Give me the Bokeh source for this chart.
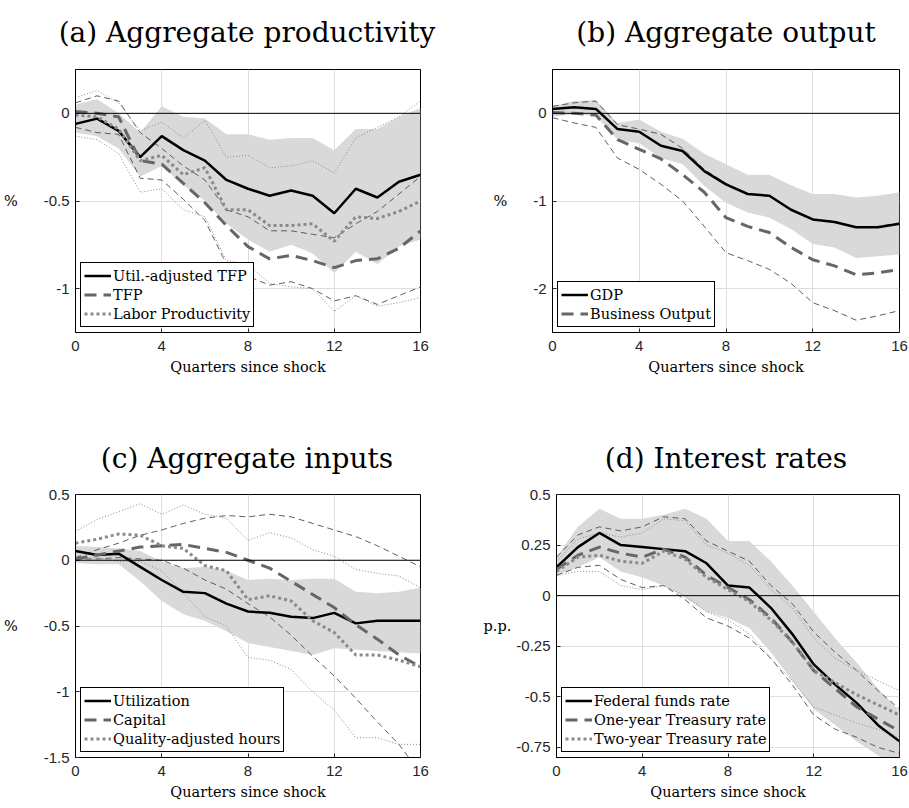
from bokeh.plotting import figure
from bokeh.layouts import column, row
from bokeh.models import Legend, LegendItem, Span, Label
from bokeh.embed import file_html
from bokeh.resources import INLINE

quarters = list(range(17))
x_ticks = [0, 4, 8, 12, 16]
x_label = "Quarters since shock"

# ---------- (a) Aggregate productivity ----------
a_title = "(a) Aggregate productivity"
a_names = ["Util.-adjusted TFP", "TFP", "Labor Productivity"]
a_util = [-0.06, -0.03, -0.10, -0.25, -0.13, -0.21, -0.27, -0.38, -0.43, -0.47, -0.44, -0.47, -0.57, -0.43, -0.48, -0.39, -0.35]
a_util_lo = [-0.11, -0.13, -0.20, -0.36, -0.30, -0.41, -0.50, -0.63, -0.72, -0.79, -0.75, -0.80, -0.91, -0.79, -0.86, -0.76, -0.72]
a_util_hi = [0.05, 0.08, 0.00, -0.11, 0.04, -0.02, -0.03, -0.12, -0.12, -0.15, -0.14, -0.14, -0.21, -0.09, -0.09, -0.02, 0.03]
a_tfp = [0.01, 0.0, -0.02, -0.27, -0.29, -0.40, -0.51, -0.64, -0.76, -0.83, -0.81, -0.84, -0.88, -0.84, -0.83, -0.77, -0.67]
a_tfp_hi = [0.06, 0.10, 0.07, -0.11, -0.20, -0.30, -0.38, -0.55, -0.59, -0.67, -0.67, -0.69, -0.71, -0.63, -0.56, -0.46, -0.36]
a_tfp_lo = [-0.08, -0.11, -0.12, -0.37, -0.38, -0.49, -0.61, -0.86, -0.93, -0.98, -0.96, -1.00, -1.07, -1.04, -1.09, -1.04, -0.99]
a_lp = [-0.01, -0.02, -0.09, -0.27, -0.24, -0.35, -0.31, -0.55, -0.55, -0.64, -0.64, -0.63, -0.73, -0.59, -0.60, -0.56, -0.50]
a_lp_hi = [0.09, 0.13, 0.06, -0.10, -0.05, -0.14, -0.04, -0.25, -0.24, -0.31, -0.30, -0.27, -0.34, -0.14, -0.08, -0.02, 0.07]
a_lp_lo = [-0.13, -0.15, -0.23, -0.45, -0.43, -0.55, -0.59, -0.84, -0.86, -0.97, -0.99, -1.00, -1.13, -1.04, -1.10, -1.08, -1.05]
a_yticks = [-1, -0.5, 0]
a_yticklabels = ["-1", "-0.5", "0"]

# ---------- (b) Aggregate output ----------
b_title = "(b) Aggregate output"
b_names = ["GDP", "Business Output"]
b_gdp = [0.05, 0.07, 0.05, -0.18, -0.21, -0.37, -0.43, -0.66, -0.81, -0.92, -0.94, -1.10, -1.21, -1.24, -1.30, -1.30, -1.26]
b_gdp_hi = [0.08, 0.14, 0.15, -0.11, -0.07, -0.21, -0.29, -0.46, -0.58, -0.70, -0.70, -0.82, -0.92, -0.92, -0.96, -0.94, -0.90]
b_gdp_lo = [-0.04, -0.01, -0.03, -0.30, -0.34, -0.51, -0.58, -0.83, -1.02, -1.13, -1.19, -1.32, -1.49, -1.53, -1.65, -1.63, -1.61]
b_bus = [0.01, 0.0, -0.02, -0.30, -0.41, -0.52, -0.70, -0.90, -1.19, -1.29, -1.36, -1.53, -1.67, -1.74, -1.84, -1.82, -1.78]
b_bus_hi = [0.08, 0.12, 0.14, -0.13, -0.18, -0.24, -0.40, -0.64, -0.80, -0.92, -0.94, -1.10, -1.21, -1.23, -1.30, -1.29, -1.25]
b_bus_lo = [-0.05, -0.11, -0.16, -0.51, -0.64, -0.81, -1.00, -1.29, -1.59, -1.68, -1.78, -1.94, -2.16, -2.25, -2.36, -2.31, -2.25]
b_yticks = [-2, -1, 0]
b_yticklabels = ["-2", "-1", "0"]

# ---------- (c) Aggregate inputs ----------
c_title = "(c) Aggregate inputs"
c_names = ["Utilization", "Capital", "Quality-adjusted hours"]
c_util = [0.07, 0.04, 0.05, -0.05, -0.15, -0.24, -0.25, -0.33, -0.39, -0.40, -0.43, -0.44, -0.40, -0.48, -0.46, -0.46, -0.46]
c_util_hi = [0.11, 0.10, 0.09, 0.07, -0.01, -0.06, -0.05, -0.08, -0.15, -0.14, -0.15, -0.14, -0.14, -0.24, -0.25, -0.24, -0.21]
c_util_lo = [-0.02, -0.03, -0.03, -0.16, -0.31, -0.41, -0.46, -0.54, -0.63, -0.66, -0.69, -0.72, -0.67, -0.68, -0.69, -0.70, -0.71]
c_cap = [0.01, 0.04, 0.07, 0.10, 0.11, 0.12, 0.09, 0.06, 0.0, -0.06, -0.16, -0.26, -0.36, -0.49, -0.60, -0.72, -0.81]
c_cap_hi = [0.02, 0.08, 0.13, 0.19, 0.23, 0.28, 0.32, 0.34, 0.33, 0.35, 0.33, 0.28, 0.23, 0.18, 0.11, 0.03, -0.05]
c_cap_lo = [0.01, 0.01, 0.02, 0.01, 0.0, -0.06, -0.15, -0.22, -0.33, -0.43, -0.57, -0.73, -0.88, -1.05, -1.23, -1.40, -1.62]
c_hrs = [0.13, 0.16, 0.20, 0.19, 0.11, 0.09, -0.04, -0.08, -0.30, -0.27, -0.31, -0.46, -0.55, -0.72, -0.72, -0.76, -0.81]
c_hrs_hi = [0.22, 0.31, 0.37, 0.43, 0.35, 0.42, 0.35, 0.32, 0.15, 0.21, 0.17, 0.08, 0.03, -0.07, -0.10, -0.12, -0.21]
c_hrs_lo = [0.02, 0.02, -0.01, -0.01, -0.08, -0.25, -0.43, -0.50, -0.74, -0.76, -0.83, -1.00, -1.14, -1.35, -1.35, -1.40, -1.40]
c_yticks = [-1.5, -1, -0.5, 0, 0.5]
c_yticklabels = ["-1.5", "-1", "-0.5", "0", "0.5"]

# ---------- (d) Interest rates ----------
d_title = "(d) Interest rates"
d_names = ["Federal funds rate", "One-year Treasury rate", "Two-year Treasury rate"]
d_ffr = [0.14, 0.24, 0.31, 0.25, 0.24, 0.23, 0.22, 0.16, 0.05, 0.04, -0.06, -0.19, -0.34, -0.44, -0.53, -0.64, -0.72]
d_ffr_hi = [0.19, 0.34, 0.43, 0.38, 0.38, 0.40, 0.43, 0.38, 0.27, 0.27, 0.17, 0.05, -0.08, -0.21, -0.33, -0.46, -0.57]
d_ffr_lo = [0.10, 0.14, 0.19, 0.12, 0.09, 0.05, -0.01, -0.08, -0.11, -0.16, -0.28, -0.42, -0.56, -0.64, -0.72, -0.79, -0.85]
d_one = [0.13, 0.20, 0.24, 0.21, 0.19, 0.23, 0.19, 0.10, 0.04, -0.02, -0.11, -0.23, -0.37, -0.46, -0.55, -0.61, -0.67]
d_one_hi = [0.19, 0.30, 0.34, 0.32, 0.34, 0.39, 0.38, 0.27, 0.22, 0.17, 0.05, -0.04, -0.18, -0.28, -0.37, -0.47, -0.56]
d_one_lo = [0.10, 0.14, 0.15, 0.08, 0.04, 0.05, -0.02, -0.11, -0.15, -0.21, -0.31, -0.44, -0.59, -0.66, -0.70, -0.75, -0.78]
d_two = [0.12, 0.19, 0.20, 0.17, 0.16, 0.22, 0.18, 0.09, 0.03, -0.03, -0.12, -0.23, -0.37, -0.43, -0.49, -0.54, -0.59]
d_two_hi = [0.17, 0.28, 0.31, 0.29, 0.31, 0.38, 0.37, 0.25, 0.21, 0.15, 0.03, -0.06, -0.21, -0.31, -0.37, -0.42, -0.47]
d_two_lo = [0.10, 0.12, 0.12, 0.05, 0.03, 0.05, 0.0, -0.08, -0.12, -0.19, -0.31, -0.42, -0.55, -0.59, -0.63, -0.66, -0.70]
d_yticks = [-0.75, -0.5, -0.25, 0, 0.25, 0.5]
d_yticklabels = ["-0.75", "-0.5", "-0.25", "0", "0.25", "0.5"]

# ---------- styles ----------
SOLID = dict(line_color="black", line_width=2.5)
DASH = dict(line_color="#666666", line_width=3, line_dash="12 7")
DOT = dict(line_color="#8a8a8a", line_width=3, line_dash="3 3")
THIN_DASH = dict(line_color="#4d4d4d", line_width=0.9, line_dash="6 4")
THIN_DOT = dict(line_color="#8a8a8a", line_width=1, line_dash="1 2")
BAND = "#d9d9d9"
SERIF = "DejaVu Serif"
SANS = "Liberation Sans"
PAD_TOP = 10


def title_strip(text, width, height, center_x, baseline_from_top):
    t = figure(width=width, height=height, x_range=(0, width), y_range=(0, height),
               output_backend="svg", toolbar_location=None, min_border=0,
               x_axis_location=None, y_axis_location=None)
    t.grid.visible = False
    t.outline_line_color = None
    t.background_fill_color = "white"
    t.border_fill_color = "white"
    t.add_layout(Label(x=center_x, y=height - baseline_from_top, text=text,
                       text_align="center", text_baseline="alphabetic",
                       text_font=SERIF, text_font_size="28px", text_color="black"))
    return t


def make_panel(yr, yticks, yticklabels, ylabel, band, thin, main, names,
               width, height, borders, ylabel_standoff):
    p = figure(width=width, height=height, x_range=(0, 16), y_range=yr,
               output_backend="svg", toolbar_location=None,
               min_border_left=borders[0], min_border_right=borders[1],
               min_border_top=borders[2], min_border_bottom=borders[3])
    p.background_fill_color = "white"
    p.border_fill_color = "white"
    p.outline_line_color = "black"
    p.outline_line_alpha = 1
    p.outline_line_width = 1

    p.xaxis.ticker = x_ticks
    p.yaxis.ticker = yticks
    p.yaxis.major_label_overrides = {t: s for t, s in zip(yticks, yticklabels)}
    for ax in (p.xaxis, p.yaxis):
        ax.major_tick_in = 4
        ax.major_tick_out = 0
        ax.minor_tick_line_color = None
        ax.axis_line_color = "black"
        ax.major_tick_line_color = "#262626"
        ax.major_label_text_font = SANS
        ax.major_label_text_font_size = "15px"
        ax.major_label_text_color = "#262626"
        ax.axis_label_text_font = SERIF
        ax.axis_label_text_font_size = "14.5px"
        ax.axis_label_text_font_style = "normal"
        ax.axis_label_text_color = "black"
    p.xaxis.major_label_standoff = 8
    p.yaxis.major_label_standoff = 6
    p.xaxis.axis_label = x_label
    p.xaxis.axis_label_standoff = 5
    p.yaxis.axis_label = ylabel
    p.yaxis.axis_label_orientation = "horizontal"
    p.yaxis.axis_label_standoff = ylabel_standoff

    p.xgrid.grid_line_color = "#dedede"
    p.ygrid.grid_line_color = "#dedede"
    p.xgrid.grid_line_width = 1
    p.ygrid.grid_line_width = 1

    p.varea(x=quarters, y1=band[0], y2=band[1], fill_color=BAND, fill_alpha=1)
    p.add_layout(Span(location=0, dimension="width", line_color="black", line_width=1))
    for vals, st in thin:
        p.line(quarters, vals, **st)
    rs = []
    for vals, st in main:
        rs.append(p.line(quarters, vals, **st))
    items = [LegendItem(label=n, renderers=[r]) for n, r in zip(names, rs)]
    leg = Legend(items=items, location="bottom_left", margin=5, padding=3,
                 spacing=0, glyph_width=27, glyph_height=19, label_height=19,
                 label_standoff=2, label_text_font=SERIF,
                 label_text_font_size="14.5px", label_text_color="black",
                 border_line_color="black", border_line_width=1, border_line_alpha=1,
                 background_fill_color="white", background_fill_alpha=1)
    p.add_layout(leg)
    return p


ta = title_strip(a_title, 480, 69 - PAD_TOP, 246.5, 32)
tb = title_strip(b_title, 429, 69 - PAD_TOP, 245.5, 32)
tc = title_strip(c_title, 480, 74 - PAD_TOP, 246.5, 38)
td = title_strip(d_title, 429, 74 - PAD_TOP, 245.5, 38)

pa = make_panel((-1.25, 0.25), a_yticks, a_yticklabels, "%",
                (a_util_lo, a_util_hi),
                [(a_tfp_hi, THIN_DASH), (a_tfp_lo, THIN_DASH), (a_lp_hi, THIN_DOT), (a_lp_lo, THIN_DOT)],
                [(a_util, SOLID), (a_tfp, DASH), (a_lp, DOT)], a_names,
                480, 351 + PAD_TOP, (73, 60, PAD_TOP, 88), 23)
pb = make_panel((-2.5, 0.5), b_yticks, b_yticklabels, "%",
                (b_gdp_lo, b_gdp_hi),
                [(b_bus_hi, THIN_DASH), (b_bus_lo, THIN_DASH)],
                [(b_gdp, SOLID), (b_bus, DASH)], b_names,
                429, 351 + PAD_TOP, (72, 10, PAD_TOP, 88), 23)
pc = make_panel((-1.5, 0.5), c_yticks, c_yticklabels, "%",
                (c_util_lo, c_util_hi),
                [(c_cap_hi, THIN_DASH), (c_cap_lo, THIN_DASH), (c_hrs_hi, THIN_DOT), (c_hrs_lo, THIN_DOT)],
                [(c_util, SOLID), (c_cap, DASH), (c_hrs, DOT)], c_names,
                480, 314 + PAD_TOP, (73, 60, PAD_TOP, 51), 23)
pd_ = make_panel((-0.8, 0.5), d_yticks, d_yticklabels, "p.p.",
                 (d_ffr_lo, d_ffr_hi),
                 [(d_one_hi, THIN_DASH), (d_one_lo, THIN_DASH), (d_two_hi, THIN_DOT), (d_two_lo, THIN_DOT)],
                 [(d_ffr, SOLID), (d_one, DASH), (d_two, DOT)], d_names,
                 429, 314 + PAD_TOP, (72, 10, PAD_TOP, 51), 2)

layout = column(row(ta, tb), row(pa, pb), row(tc, td), row(pc, pd_))
open("out.html", "w").write(file_html(layout, INLINE))
